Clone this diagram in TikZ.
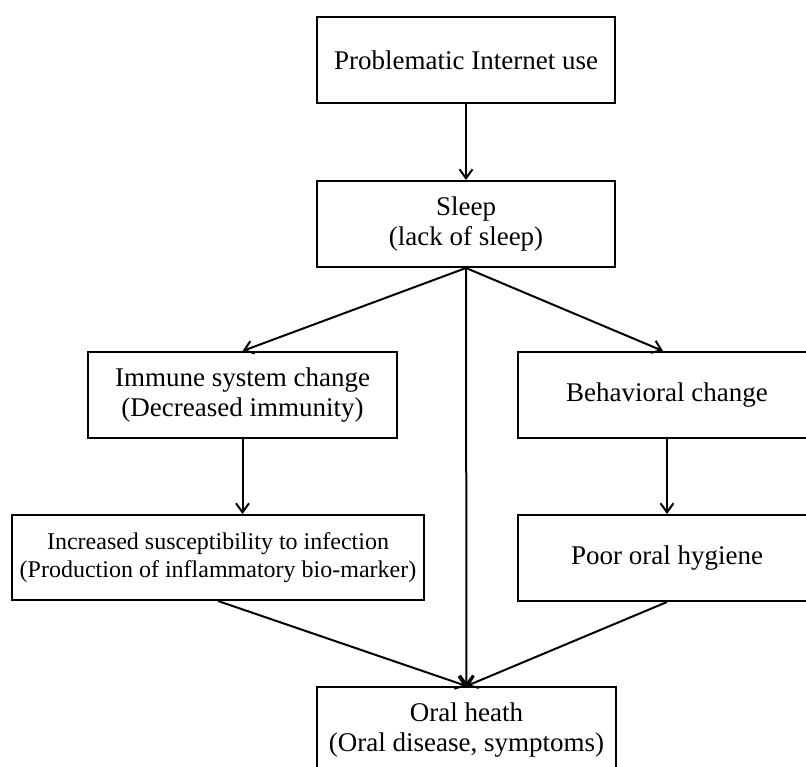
\documentclass[tikz,border=0pt]{standalone}
\usepackage{fontspec}
\setmainfont{Liberation Serif}
\usetikzlibrary{arrows.meta}
\begin{document}
\begin{tikzpicture}[x=1pt,y=-1pt,
  box/.style={draw,line width=2pt,inner sep=0pt,minimum height=86pt,align=center,
    font=\fontsize{27}{29.5}\selectfont},
  smallbox/.style={box,font=\fontsize{24}{28}\selectfont},
  conn/.style={line width=2pt,-{Straight Barb[length=9pt,width=13pt,line width=2pt]}}]
\clip (0,0) rectangle (806,767);
\node[box,minimum width=298pt] (pi) at (466,60) {Problematic Internet use};
\node[box,minimum width=298pt] (sl) at (466,224) {Sleep\\(lack of sleep)};
\node[box,minimum width=309pt] (im) at (242.5,395) {Immune system change\\(Decreased immunity)};
\node[box,minimum width=298pt] (be) at (667,395) {Behavioral change};
\node[smallbox,minimum width=412pt,minimum height=85pt] (inc) at (218,557.5) {Increased susceptibility to infection\\(Production of inflammatory bio-marker)};
\node[box,minimum width=298pt] (po) at (667,558) {Poor oral hygiene};
\node[box,minimum width=299pt] (oh) at (466.5,730) {Oral heath\\(Oral disease, symptoms)};
\draw[conn] (pi.south) -- (sl.north);
\draw[conn] (sl.south) -- (im.north);
\draw[conn] (sl.south) -- ([xshift=-4pt]be.north);
\draw[conn] (sl.south) -- (oh.north);
\draw[conn] (im.south) -- (im.south |- inc.north);
\draw[conn] (be.south) -- (po.north);
\draw[conn] (inc.south) -- (oh.north);
\draw[conn] (po.south) -- (oh.north);
\end{tikzpicture}
\end{document}
